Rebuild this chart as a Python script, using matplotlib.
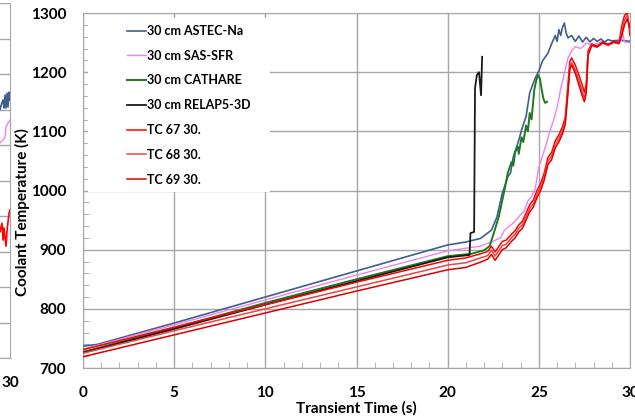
import matplotlib
matplotlib.use('Agg')
import matplotlib.pyplot as plt
from matplotlib.ticker import MultipleLocator
from matplotlib.patches import Rectangle

plt.rcParams['font.family'] = ['Lato', 'DejaVu Sans']
plt.rcParams['font.weight'] = 'bold'

# 30 cm level, coolant temperature vs transient time
astec_t = [0, 0.8, 5, 10, 15, 20, 21.0, 21.8, 22.4, 22.7, 23.0, 23.3, 23.45, 23.6, 23.9, 24.1, 24.3, 24.5, 24.8, 25.0,
           25.2, 25.5, 25.7, 25.9, 26.0, 26.1, 26.2, 26.3, 26.4, 26.5, 26.6, 26.8, 27.0, 27.2, 27.4, 27.6, 27.8, 28.0,
           28.2, 28.4, 28.6, 28.8, 29.0, 29.5, 30.0]
astec_T = [737, 740, 776, 820, 864, 908, 913, 919, 933, 955, 996, 1023, 1030, 1057, 1085, 1107, 1125, 1165, 1190, 1202,
           1219, 1232, 1248, 1262, 1252, 1272, 1262, 1276, 1283, 1266, 1258, 1262, 1252, 1261, 1251, 1259, 1251, 1257,
           1252, 1256, 1251, 1255, 1253, 1254, 1252]

sas_t = [0, 5, 10, 15, 20, 21.8, 22.4, 22.9, 23.1, 23.3, 23.6, 23.8, 24.0, 24.2, 24.4, 24.6, 24.8, 25.0, 25.2, 25.4,
         25.6, 25.8, 26.0, 26.2, 26.4, 26.6, 26.8, 27.0, 27.3, 27.6, 28.0, 28.4, 28.8, 29.2, 29.5, 29.6, 29.7, 30.0]
sas_T = [732, 773, 815, 857, 898, 906, 913, 920, 932, 938, 945, 952, 959, 966, 982, 990, 1003, 1040, 1058, 1078,
         1100, 1118, 1140, 1172, 1198, 1224, 1236, 1243, 1240, 1249, 1246, 1251, 1248, 1251, 1252, 1266, 1251, 1250]

cathare_t = [0, 5, 10, 15, 20, 21.3, 22.0, 22.3, 22.5, 22.8, 23.0, 23.15, 23.3, 23.5, 23.6, 23.7, 23.85, 23.9, 24.05,
             24.15, 24.3, 24.4, 24.5, 24.6, 24.75, 24.85, 24.95, 25.05, 25.15, 25.25, 25.35, 25.45]
cathare_T = [727, 768, 810, 850, 889, 893, 899, 906, 925, 955, 984, 1006, 1030, 1048, 1042, 1065, 1074, 1062, 1090,
             1082, 1110, 1100, 1131, 1120, 1170, 1185, 1195, 1190, 1172, 1155, 1148, 1150]

relap_t = [0, 5, 10, 15, 20, 21.2, 21.25, 21.45, 21.5, 21.6, 21.72, 21.83, 21.89]
relap_T = [726, 766, 807, 847, 887, 891, 928, 930, 1173, 1195, 1200, 1161, 1226]

tc_t = [0, 5, 10, 15, 20, 21.0, 21.8, 22.2, 22.4, 22.6, 22.8, 23.0, 23.2, 23.5, 23.7, 23.9, 24.1, 24.3, 24.5, 24.7,
        24.9, 25.1, 25.3, 25.5, 25.7, 25.9, 26.1, 26.3, 26.45, 26.6, 26.7, 26.8, 27.0, 27.2, 27.4, 27.5, 27.6, 27.7,
        27.9, 28.2, 28.5, 28.8, 29.1, 29.4, 29.55, 29.7, 29.85, 30.0]
tc67_T = [731, 769, 807, 845, 882, 886, 893, 897, 906, 896, 905, 914, 916, 926, 932, 942, 948, 962, 976, 984,
          1000, 1012, 1030, 1056, 1064, 1084, 1094, 1108, 1124, 1180, 1218, 1224, 1212, 1195, 1176, 1166, 1180, 1236,
          1248, 1244, 1251, 1246, 1252, 1250, 1278, 1296, 1300, 1262]
tc68_T = [725, 763, 800, 837, 874, 878, 886, 890, 899, 889, 898, 907, 909, 920, 926, 936, 942, 956, 970, 978,
          994, 1006, 1024, 1050, 1058, 1078, 1088, 1102, 1118, 1172, 1210, 1216, 1204, 1186, 1165, 1157, 1172, 1232,
          1246, 1242, 1249, 1245, 1250, 1248, 1268, 1288, 1296, 1270]
tc69_T = [719, 756, 793, 830, 866, 870, 879, 884, 892, 882, 891, 900, 903, 914, 920, 930, 936, 950, 964, 972,
          988, 1000, 1018, 1044, 1052, 1072, 1082, 1096, 1112, 1165, 1205, 1212, 1198, 1178, 1158, 1150, 1165, 1228,
          1245, 1243, 1250, 1247, 1251, 1249, 1262, 1280, 1290, 1276]

# tail end of the neighbouring panel
side_blue_t = [29.3, 29.45, 29.53, 29.62, 29.67, 29.73, 29.78, 29.84, 29.89, 29.95, 30.0]
side_blue_T = [995, 999, 1015, 1027, 1004, 1041, 1004, 1046, 1007, 1049, 1027]
side_pink_t = [29.3, 29.45, 29.62, 29.73, 29.78, 29.89, 30.0]
side_pink_T = [900, 906, 914, 923, 951, 962, 970]
side_red_t = [29.3, 29.45, 29.56, 29.62, 29.67, 29.78, 29.84, 29.95, 30.0]
side_red_T = [660, 655, 680, 632, 666, 615, 661, 708, 717]

W, H = 635, 416
GRID = '#A6A6A6'
BLUE = '#3F5F8F'
PINK = '#EE82EE'
GREEN = '#1F7A1F'

fig = plt.figure(figsize=(W / 100, H / 100), dpi=100)

# neighbouring panel, only its right edge falls inside the figure
side = fig.add_axes([10 / W - 547 / W, 58 / H, 547 / W, 355 / H])
side.plot(side_blue_t, side_blue_T, color=BLUE, lw=1.2)
side.plot(side_pink_t, side_pink_T, color=PINK, lw=1.0)
side.plot(side_red_t, side_red_T, color='#FF0000', lw=1.2)
side.set_xlim(0, 30)
side.set_ylim(300, 1300)
side.set_xticks([30])
side.yaxis.set_major_locator(MultipleLocator(100))
side.grid(True, axis='y', color=GRID, lw=1)
side.set_axisbelow(True)
for s in ['left', 'top']:
    side.spines[s].set_visible(False)
for s in ['right', 'bottom']:
    side.spines[s].set_color(GRID)
side.tick_params(length=0, labelleft=False, labelsize=11, pad=13)

ax = fig.add_axes([83 / W, 48 / H, 547 / W, 355 / H])
ax.plot(astec_t, astec_T, color=BLUE, lw=1.2, label='30 cm ASTEC-Na', zorder=3)
ax.plot(sas_t, sas_T, color=PINK, lw=1.0, label='30 cm SAS-SFR', zorder=3)
ax.plot(cathare_t, cathare_T, color=GREEN, lw=1.4, label='30 cm CATHARE', zorder=3)
ax.plot(relap_t, relap_T, color='#1A1A1A', lw=1.3, label='30 cm RELAP5-3D', zorder=3)
ax.plot(tc_t, tc67_T, color='#FF0000', lw=1.1, label='TC 67 30.', zorder=3)
ax.plot(tc_t, tc68_T, color='#EE4444', lw=1.1, label='TC 68 30.', zorder=3)
ax.plot(tc_t, tc69_T, color='#E00000', lw=1.1, label='TC 69 30.', zorder=3)

ax.set_xlim(0, 30)
ax.set_ylim(700, 1300)
ax.xaxis.set_major_locator(MultipleLocator(5))
ax.yaxis.set_major_locator(MultipleLocator(100))
ax.xaxis.set_minor_locator(MultipleLocator(1))
ax.yaxis.set_minor_locator(MultipleLocator(20))
ax.grid(True, which='major', color=GRID, lw=1)
ax.set_axisbelow(True)
for s in ax.spines.values():
    s.set_color(GRID)
ax.tick_params(which='major', length=0, labelsize=11)
ax.tick_params(axis='x', which='major', pad=13)
ax.tick_params(axis='y', which='major', pad=12)
ax.tick_params(which='minor', direction='in', length=4, color=GRID)

# white box under the legend hides the grid there
ax.add_patch(Rectangle((5 / 547, 176 / 355), 182 / 547, 174 / 355, transform=ax.transAxes,
                       facecolor='white', edgecolor='none', zorder=1))

ax.legend(loc='upper left', bbox_to_anchor=(127 / W, (H - 25) / H), bbox_transform=fig.transFigure,
          frameon=False, fontsize=9, handlelength=1.5, handletextpad=0.1, labelspacing=1.02,
          borderpad=0, borderaxespad=0)

ax.set_xlabel('Transient Time (s)', fontsize=11, fontweight='bold', labelpad=1)
fig.text(22 / W, (H - 212) / H, 'Coolant Temperature (K)', rotation=90, ha='center', va='center',
         fontsize=11, fontweight='bold')

fig.savefig('out.png', dpi=100)
